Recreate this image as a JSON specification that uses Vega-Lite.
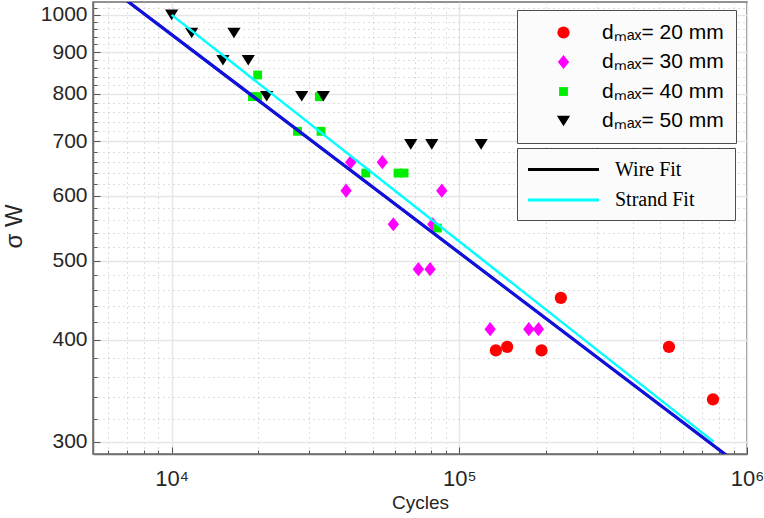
{
  "$schema": "https://vega.github.io/schema/vega-lite/v6.json",
  "width": 654,
  "height": 452,
  "autosize": {"type": "none"},
  "padding": {"left": 93, "top": 2, "right": 17, "bottom": 64},
  "background": "white",
  "config": {
    "font": "Liberation Sans",
    "view": {"stroke": "#6e6e6e", "strokeWidth": 1.5}
  },
  "datasets": {
    "pts": [
      {"series": "dₘₐₓ= 20 mm", "cycles": 225400, "stress": 450},
      {"series": "dₘₐₓ= 20 mm", "cycles": 134000, "stress": 388},
      {"series": "dₘₐₓ= 20 mm", "cycles": 146700, "stress": 392},
      {"series": "dₘₐₓ= 20 mm", "cycles": 193100, "stress": 388},
      {"series": "dₘₐₓ= 20 mm", "cycles": 535500, "stress": 392},
      {"series": "dₘₐₓ= 20 mm", "cycles": 761700, "stress": 338},
      {"series": "dₘₐₓ= 30 mm", "cycles": 41940, "stress": 660},
      {"series": "dₘₐₓ= 30 mm", "cycles": 54020, "stress": 660},
      {"series": "dₘₐₓ= 30 mm", "cycles": 40400, "stress": 609},
      {"series": "dₘₐₓ= 30 mm", "cycles": 86930, "stress": 609},
      {"series": "dₘₐₓ= 30 mm", "cycles": 58980, "stress": 554},
      {"series": "dₘₐₓ= 30 mm", "cycles": 80870, "stress": 554},
      {"series": "dₘₐₓ= 30 mm", "cycles": 72060, "stress": 488},
      {"series": "dₘₐₓ= 30 mm", "cycles": 79140, "stress": 488},
      {"series": "dₘₐₓ= 30 mm", "cycles": 128000, "stress": 412},
      {"series": "dₘₐₓ= 30 mm", "cycles": 174400, "stress": 412},
      {"series": "dₘₐₓ= 30 mm", "cycles": 188400, "stress": 412},
      {"series": "dₘₐₓ= 40 mm", "cycles": 19910, "stress": 844},
      {"series": "dₘₐₓ= 40 mm", "cycles": 19100, "stress": 794},
      {"series": "dₘₐₓ= 40 mm", "cycles": 19880, "stress": 794},
      {"series": "dₘₐₓ= 40 mm", "cycles": 32620, "stress": 794},
      {"series": "dₘₐₓ= 40 mm", "cycles": 27390, "stress": 720},
      {"series": "dₘₐₓ= 40 mm", "cycles": 33060, "stress": 720},
      {"series": "dₘₐₓ= 40 mm", "cycles": 47300, "stress": 640},
      {"series": "dₘₐₓ= 40 mm", "cycles": 61240, "stress": 640},
      {"series": "dₘₐₓ= 40 mm", "cycles": 64270, "stress": 640},
      {"series": "dₘₐₓ= 40 mm", "cycles": 83920, "stress": 548},
      {"series": "dₘₐₓ= 50 mm", "cycles": 10000, "stress": 1000},
      {"series": "dₘₐₓ= 50 mm", "cycles": 11740, "stress": 950},
      {"series": "dₘₐₓ= 50 mm", "cycles": 16470, "stress": 950},
      {"series": "dₘₐₓ= 50 mm", "cycles": 15080, "stress": 880},
      {"series": "dₘₐₓ= 50 mm", "cycles": 18470, "stress": 880},
      {"series": "dₘₐₓ= 50 mm", "cycles": 21400, "stress": 795},
      {"series": "dₘₐₓ= 50 mm", "cycles": 28330, "stress": 795},
      {"series": "dₘₐₓ= 50 mm", "cycles": 33680, "stress": 795},
      {"series": "dₘₐₓ= 50 mm", "cycles": 67800, "stress": 694},
      {"series": "dₘₐₓ= 50 mm", "cycles": 80230, "stress": 694},
      {"series": "dₘₐₓ= 50 mm", "cycles": 119100, "stress": 694}
    ],
    "fits": [
      {"fit": "Wire Fit", "cycles": 5330, "stress": 1119},
      {"fit": "Wire Fit", "cycles": 1000000, "stress": 276.2},
      {"fit": "Strand Fit", "cycles": 10000, "stress": 1000},
      {"fit": "Strand Fit", "cycles": 765000, "stress": 300}
    ]
  },
  "layer": [
    {
      "data": {"name": "pts"},
      "mark": {"type": "point", "filled": true, "opacity": 1, "strokeWidth": 0},
      "encoding": {
        "x": {
          "field": "cycles", "type": "quantitative",
          "scale": {"type": "log", "domain": [5330, 1000000], "nice": false, "zero": false},
          "axis": {
            "title": "Cycles",
            "titleFont": "Liberation Sans", "titleFontSize": 19, "titleFontWeight": "normal", "titleColor": "#262626",
            "titlePadding": 1,
            "values": [6000, 7000, 8000, 9000, 10000, 20000, 30000, 40000, 50000, 60000, 70000, 80000, 90000, 100000, 200000, 300000, 400000, 500000, 600000, 700000, 800000, 900000, 1000000],
            "labelExpr": "datum.value == 10000 ? '10⁴' : datum.value == 100000 ? '10⁵' : datum.value == 1000000 ? '10⁶' : ''",
            "labelFont": "Liberation Sans", "labelFontSize": 22, "labelColor": "#262626",
            "labelPadding": 21, "labelFlush": false, "labelOverlap": false, "labelBound": false,
            "domainColor": "#6e6e6e", "domainWidth": 1.5,
            "tickColor": "#555555", "tickWidth": 1,
            "tickSize": {"condition": {"test": "datum.value != 10000 && datum.value != 100000 && datum.value != 1000000", "value": -4}, "value": -7},
            "grid": true,
            "gridColor": {"condition": {"test": "datum.value != 10000 && datum.value != 100000 && datum.value != 1000000", "value": "#bdbdbd"}, "value": "#e6e6e6"},
            "gridDash": {"condition": {"test": "datum.value != 10000 && datum.value != 100000 && datum.value != 1000000", "value": [1, 4]}, "value": []},
            "gridWidth": {"condition": {"test": "datum.value != 10000 && datum.value != 100000 && datum.value != 1000000", "value": 1}, "value": 1.5}
          }
        },
        "y": {
          "field": "stress", "type": "quantitative",
          "scale": {"type": "log", "domain": [289.7, 1037], "nice": false, "zero": false},
          "axis": {
            "title": "σ W",
            "titleFont": "Liberation Sans", "titleFontSize": 24, "titleFontWeight": "normal", "titleColor": "#262626",
            "titleAngle": -90, "titleX": -79, "titleY": 224, "titleAlign": "center", "titleBaseline": "middle",
            "values": [300, 320, 340, 360, 380, 400, 420, 440, 460, 480, 500, 520, 540, 560, 580, 600, 620, 640, 660, 680, 700, 720, 740, 760, 780, 800, 820, 840, 860, 880, 900, 920, 940, 960, 980, 1000, 1020],
            "labelExpr": "datum.value % 100 == 0 ? '' + datum.value : ''",
            "labelFont": "Liberation Sans", "labelFontSize": 21, "labelColor": "#262626",
            "labelPadding": 13, "labelOverlap": false, "labelBound": false, "labelFlush": false,
            "domainColor": "#6e6e6e", "domainWidth": 1.5,
            "tickColor": "#555555", "tickWidth": 1,
            "tickSize": {"condition": {"test": "datum.value % 100 != 0", "value": -4}, "value": -7},
            "grid": true,
            "gridColor": {"condition": {"test": "datum.value % 100 != 0", "value": "#bdbdbd"}, "value": "#e6e6e6"},
            "gridDash": {"condition": {"test": "datum.value % 100 != 0", "value": [1, 4]}, "value": []},
            "gridWidth": {"condition": {"test": "datum.value % 100 != 0", "value": 1}, "value": 1.5}
          }
        },
        "color": {
          "field": "series", "type": "nominal",
          "scale": {"domain": ["dₘₐₓ= 20 mm", "dₘₐₓ= 30 mm", "dₘₐₓ= 40 mm", "dₘₐₓ= 50 mm"], "range": ["#ff0000", "#ff00ff", "#00ee00", "#000000"]},
          "legend": {
            "orient": "none", "legendX": 424, "legendY": 8, "title": null,
            "padding": 12, "strokeColor": "#4d4d4d", "fillColor": "#fbfbfb",
            "symbolSize": 260, "symbolStrokeWidth": 0, "symbolOpacity": 1,
            "symbolOffset": 24, "labelOffset": 28,
            "labelFont": "Liberation Sans", "labelFontSize": 21, "labelColor": "#000000",
            "rowPadding": 7.5, "labelLimit": 300
          }
        },
        "shape": {
          "field": "series", "type": "nominal",
          "scale": {"domain": ["dₘₐₓ= 20 mm", "dₘₐₓ= 30 mm", "dₘₐₓ= 40 mm", "dₘₐₓ= 50 mm"], "range": ["circle", "M0,-1L0.8,0L0,1L-0.8,0Z", "square", "M-1,-0.8L1,-0.8L0,0.8Z"]},
          "legend": {
            "orient": "none", "legendX": 424, "legendY": 8, "title": null,
            "padding": 12, "strokeColor": "#4d4d4d", "fillColor": "#fbfbfb",
            "symbolSize": 260, "symbolStrokeWidth": 0, "symbolOpacity": 1,
            "symbolOffset": 24, "labelOffset": 28,
            "labelFont": "Liberation Sans", "labelFontSize": 21, "labelColor": "#000000",
            "rowPadding": 7.5, "labelLimit": 300
          }
        },
        "size": {
          "field": "series", "type": "nominal",
          "scale": {"type": "ordinal", "domain": ["dₘₐₓ= 20 mm", "dₘₐₓ= 30 mm", "dₘₐₓ= 40 mm", "dₘₐₓ= 50 mm"], "range": [150, 200, 78, 175]},
          "legend": null
        }
      }
    },
    {
      "data": {"name": "fits"},
      "mark": {"type": "line", "clip": true, "strokeWidth": 2.5},
      "encoding": {
        "x": {"field": "cycles", "type": "quantitative", "scale": {"type": "log", "domain": [5330, 1000000], "nice": false, "zero": false}},
        "y": {"field": "stress", "type": "quantitative", "scale": {"type": "log", "domain": [289.7, 1037], "nice": false, "zero": false}},
        "stroke": {
          "field": "fit", "type": "nominal",
          "scale": {"domain": ["Wire Fit", "Strand Fit"], "range": ["#000000", "#00ffff"]},
          "legend": {
            "orient": "none", "legendX": 424, "legendY": 146, "title": null,
            "padding": 10, "strokeColor": "#4d4d4d", "fillColor": "#fbfbfb",
            "symbolType": "M-3.55,0L3.55,0", "symbolSize": 400, "symbolStrokeWidth": 3, "symbolOffset": 25,
            "labelOffset": 40, "labelFont": "Liberation Serif", "labelFontSize": 20, "labelColor": "#000000",
            "rowPadding": 8.5, "labelLimit": 300,
            "labelExpr": "datum.label + '⠀⠀'"
          }
        },
        "detail": {"field": "fit", "type": "nominal"}
      }
    },
    {
      "data": {"name": "fits"},
      "transform": [{"filter": "datum.fit == 'Wire Fit'"}],
      "mark": {"type": "line", "clip": true, "strokeWidth": 3.2, "color": "#1111dd"},
      "encoding": {
        "x": {"field": "cycles", "type": "quantitative", "scale": {"type": "log", "domain": [5330, 1000000], "nice": false, "zero": false}},
        "y": {"field": "stress", "type": "quantitative", "scale": {"type": "log", "domain": [289.7, 1037], "nice": false, "zero": false}}
      }
    }
  ]
}
